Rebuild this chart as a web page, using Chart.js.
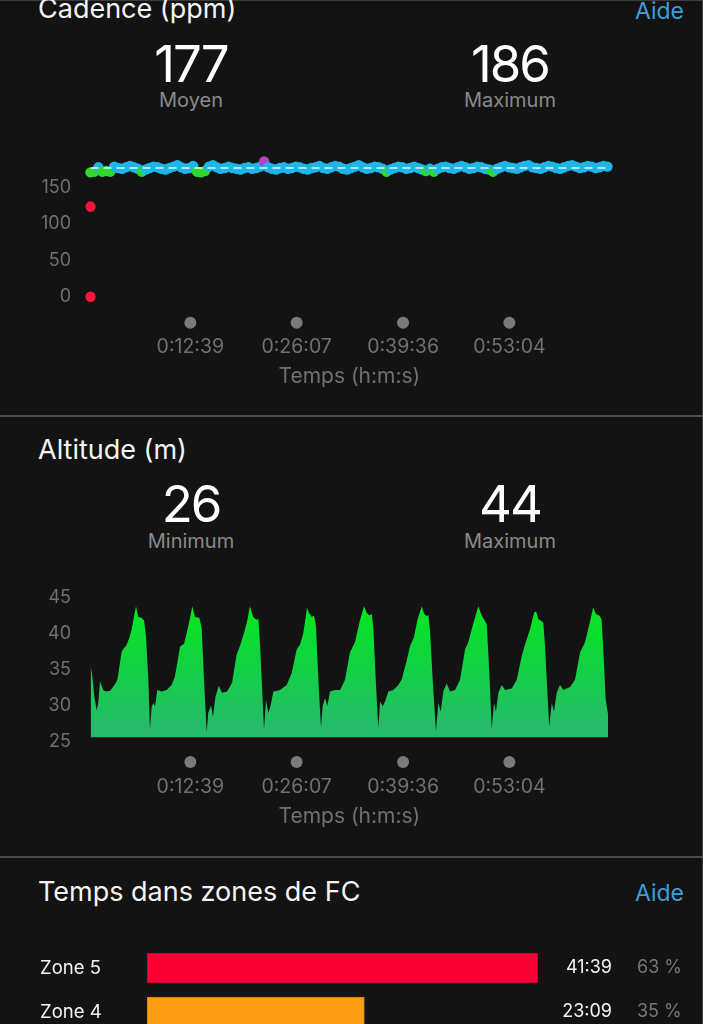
<!DOCTYPE html>
<html><head><meta charset="utf-8">
<script src="https://cdn.jsdelivr.net/npm/chart.js@4.4.1/dist/chart.umd.min.js"></script>
<style>
html,body{margin:0;padding:0;background:#131313;}
#page{position:relative;width:703px;height:1024px;overflow:hidden;background:#131313;font-family:Inter,"Noto Sans",sans-serif;}
.t{position:absolute;white-space:nowrap;line-height:1;}
.title{left:38px;font-size:27px;color:#f4f4f4;}
.help{right:19px;font-size:23px;color:#3b9fdc;}
.big{font-size:51px;color:#ffffff;transform:translateX(-50%);letter-spacing:-2px;}
.sub{font-size:20px;color:#8a8a8a;transform:translateX(-50%);}
.rule{position:absolute;left:0;width:703px;height:2px;background:#4c4c4c;}
.edgeT{position:absolute;left:0;top:0;width:703px;height:1px;background:#3a3a3a;}
.edgeR{position:absolute;right:0;top:0;width:1px;height:1024px;background:#3a3a3a;}
canvas{position:absolute;left:0;}
</style></head>
<body><div id="page">
<div class="edgeT"></div><div class="edgeR"></div>
<div class="t title" style="top:-5px">Cadence (ppm)</div>
<div class="t help" style="top:0px">Aide</div>
<div class="t big" style="left:191px;top:38px">177</div>
<div class="t big" style="left:510px;top:38px">186</div>
<div class="t sub" style="left:191px;top:90px">Moyen</div>
<div class="t sub" style="left:510px;top:90px">Maximum</div>
<canvas id="cad" width="703" height="260" style="top:140px"></canvas>
<div class="rule" style="top:415px"></div>
<div class="t title" style="top:436px">Altitude (m)</div>
<div class="t big" style="left:191px;top:478px">26</div>
<div class="t big" style="left:510px;top:478px">44</div>
<div class="t sub" style="left:191px;top:531px">Minimum</div>
<div class="t sub" style="left:510px;top:531px">Maximum</div>
<canvas id="alt" width="703" height="260" style="top:580px"></canvas>
<div class="rule" style="top:856px"></div>
<div class="t title" style="top:878px">Temps dans zones de FC</div>
<div class="t help" style="top:882px">Aide</div>
<canvas id="zones" width="703" height="104" style="top:930px"></canvas>
</div>
<script>
// ---------- DATA ----------
const timeTickSeconds = [759, 1567, 2376, 3184];
const durationSeconds = 3936;

const cadenceStepSeconds = 30;
const cadenceValues = [
171,172,178,172,173,172,179,177,176,178,180,178,176,172,175,177,179,178,176,175,
177,179,181,178,176,177,180,172,171,173,179,181,178,176,177,179,177,176,175,177,
178,176,177,179,186,178,176,175,177,178,176,177,179,178,176,175,177,178,180,177,
176,178,180,179,176,175,177,179,181,178,176,177,179,178,176,172,175,177,179,178,
176,177,179,177,175,173,176,172,176,178,179,177,176,178,180,178,176,177,179,178,
176,175,172,176,178,180,178,177,176,178,180,181,178,177,176,178,180,179,177,176,
178,180,181,179,177,178,180,179,177,178,180,179];
const cadenceStartPoints = [[0, 124], [0, 0]];
const cadenceAverage = 177;
const cadenceTicks = [0, 50, 100, 150];

const altitudeProfile = [
[0,35.7],[14,34.1],[29,31.3],[47,29.4],[59,30.4],[72,33.4],[97,32.2],[115,32.0],[150,32.1],[186,33.0],[204,33.6],[237,37.5],[255,38.0],[270,38.3],[295,39.4],[313,40.6],[330,42.3],[346,43.8],[363,42.3],[389,42.2],[407,41.8],[422,39.6],[440,33.5],[452,26.7],
[465,29.9],[478,30.4],[490,29.9],[508,32.2],[540,32.0],[579,32.2],[617,32.9],[642,34.1],[665,36.5],[680,38.2],[711,38.6],[731,40.1],[749,41.5],[774,43.8],[794,42.3],[827,42.2],[845,40.8],[863,33.6],[883,26.4],
[895,29.0],[916,30.1],[931,28.5],[950,31.3],[975,32.8],[1000,31.8],[1038,32.0],[1076,33.2],[1111,37.1],[1136,38.3],[1167,40.1],[1188,41.5],[1212,43.8],[1237,42.3],[1263,41.9],[1276,42.1],[1289,38.5],[1319,26.7],
[1334,30.8],[1352,29.0],[1370,30.1],[1390,32.0],[1441,32.2],[1491,32.9],[1529,34.5],[1567,37.8],[1593,38.5],[1618,40.1],[1646,43.6],[1660,42.9],[1682,42.3],[1699,42.5],[1714,41.0],[1732,33.6],[1752,27.0],
[1765,30.0],[1783,31.1],[1800,30.0],[1821,32.0],[1859,32.2],[1897,32.2],[1935,33.6],[1972,37.4],[2010,38.8],[2048,41.8],[2079,43.8],[2100,42.9],[2119,42.5],[2138,42.7],[2150,40.8],[2168,33.7],[2188,26.9],
[2201,30.6],[2221,29.9],[2239,30.6],[2264,32.0],[2302,32.2],[2340,32.9],[2366,33.7],[2404,36.3],[2429,38.3],[2459,39.5],[2484,41.8],[2518,43.8],[2535,42.8],[2556,42.4],[2568,42.6],[2581,40.4],[2601,33.7],[2626,26.5],
[2644,30.4],[2662,29.2],[2682,32.0],[2708,33.1],[2733,32.0],[2771,32.2],[2809,33.6],[2847,37.8],[2872,38.8],[2905,41.1],[2948,43.8],[2974,42.5],[2991,42.0],[3012,41.3],[3032,34.5],[3050,26.8],
[3067,30.4],[3082,29.2],[3100,31.8],[3126,32.9],[3151,32.2],[3202,32.4],[3240,33.6],[3278,36.9],[3303,38.5],[3341,40.6],[3372,42.9],[3387,43.1],[3404,42.0],[3423,41.8],[3442,41.5],[3455,38.3],[3472,32.2],[3487,27.1],
[3506,30.4],[3523,29.2],[3544,31.8],[3569,32.9],[3594,32.2],[3645,32.6],[3683,33.6],[3721,37.4],[3759,38.8],[3792,41.3],[3821,43.6],[3842,42.7],[3867,42.5],[3885,42.0],[3903,36.0],[3916,30.9],[3936,28.6]];
const altitudeMin = 25, altitudeMax = 45, altitudeStep = 5;

const zoneLabels = ['Zone 5', 'Zone 4'];
const zoneSeconds = [2499, 1389];
const zoneTimeLabels = ['41:39', '23:09'];
const zonePercents = [63, 35];

// ---------- HELPERS ----------
const FONT = 'Inter, "Noto Sans", sans-serif';
function hms(s){const h=Math.floor(s/3600),m=Math.floor(s%3600/60),x=Math.round(s%60);return h+':'+String(m).padStart(2,'0')+':'+String(x).padStart(2,'0');}
function cadenceColor(v){ if(v>183) return '#b63fcc'; if(v>=174) return '#1db6e6'; if(v>=164) return '#2fd92c'; if(v>=153) return '#ff9c12'; return '#f8163f'; }
function noEdgePadding(ax){ ax.paddingTop = 0; ax.paddingBottom = 0; ax.paddingLeft = 0; ax.paddingRight = 0; }

const tickDots = {
  id:'tickDots',
  afterDraw(chart, args, opts){
    const sx = chart.scales.x, ctx = chart.ctx;
    ctx.save(); ctx.fillStyle = opts.color;
    sx.ticks.forEach(t=>{ ctx.beginPath(); ctx.arc(sx.getPixelForValue(t.value), chart.chartArea.bottom + opts.offset, opts.radius, 0, Math.PI*2); ctx.fill(); });
    ctx.restore();
  }
};

function timeAxis(axisHeight, labelPad, titlePad){
  return {
    type:'linear', min:0, max:durationSeconds,
    grid:{display:false, drawTicks:false}, border:{display:false},
    afterBuildTicks(ax){ ax.ticks = timeTickSeconds.map(v=>({value:v})); },
    afterFit(ax){ ax.height = axisHeight; noEdgePadding(ax); },
    ticks:{ color:'#707070', font:{family:FONT, size:19.5}, padding:labelPad, maxRotation:0, autoSkip:false, callback:(v)=>hms(v) },
    title:{ display:true, text:'Temps (h:m:s)', color:'#707070', font:{family:FONT, size:21}, padding:{top:0,bottom:titlePad} }
  };
}

Chart.defaults.font.family = FONT;

// ---------- CADENCE ----------
const cadencePoints = cadenceStartPoints.map(p=>({x:p[0],y:p[1]})).concat(cadenceValues.map((v,i)=>({x:i*cadenceStepSeconds,y:v})));
new Chart(document.getElementById('cad'), {
  data:{ datasets:[
    { type:'line', order:0, data:[{x:0,y:cadenceAverage},{x:durationSeconds,y:cadenceAverage}], borderColor:'rgba(235,248,255,0.95)', borderWidth:1.6, borderDash:[8,5], pointRadius:0, fill:false },
    { type:'scatter', order:1, data:cadencePoints, pointRadius:5.2, borderWidth:0, clip:false,
      pointBackgroundColor:(c)=>cadenceColor(c.raw ? c.raw.y : 0) }
  ]},
  options:{
    responsive:false, animation:false, events:[],
    layout:{ padding:{left:0, right:94.7, top:18.6, bottom:0} },
    plugins:{ legend:{display:false}, tooltip:{enabled:false}, tickDots:{color:'#7a7a7a', radius:6, offset:26} },
    scales:{
      x: timeAxis(103.3, 38.6, 10.4),
      y:{ type:'linear', min:0, max:190,
        grid:{display:false, drawTicks:false}, border:{display:false},
        afterBuildTicks(ax){ ax.ticks = cadenceTicks.map(v=>({value:v})); },
        afterFit(ax){ ax.width = 90.5; noEdgePadding(ax); },
        ticks:{ color:'#707070', font:{family:FONT, size:18}, padding:19.5 } }
    }
  },
  plugins:[tickDots]
});

// ---------- ALTITUDE ----------
new Chart(document.getElementById('alt'), {
  type:'line',
  data:{ datasets:[{ data:altitudeProfile.map(p=>({x:p[0],y:p[1]})), pointRadius:0, borderWidth:0, tension:0,
    fill:{value:25.65},
    backgroundColor:(c)=>{ const ca=c.chart.chartArea; if(!ca) return '#1ccc4a';
      const g=c.chart.ctx.createLinearGradient(0,ca.top,0,ca.bottom);
      g.addColorStop(0,'#00ea18'); g.addColorStop(0.5,'#14d045'); g.addColorStop(1,'#2ab673'); return g; } }]},
  options:{
    responsive:false, animation:false, events:[],
    layout:{ padding:{left:0, right:94.7, top:17.5, bottom:0} },
    plugins:{ legend:{display:false}, tooltip:{enabled:false}, tickDots:{color:'#7a7a7a', radius:6, offset:20} },
    scales:{
      x: timeAxis(98, 33.3, 10.4),
      y:{ type:'linear', min:altitudeMin, max:altitudeMax,
        grid:{display:false, drawTicks:false}, border:{display:false},
        afterFit(ax){ ax.width = 90.5; noEdgePadding(ax); },
        ticks:{ stepSize:altitudeStep, color:'#707070', font:{family:FONT, size:18}, padding:19.5 } }
    }
  },
  plugins:[tickDots]
});

// ---------- HR ZONES ----------
const zoneText = {
  id:'zoneText',
  afterDatasetsDraw(chart){
    const meta = chart.getDatasetMeta(0), ctx = chart.ctx, ca = chart.chartArea;
    ctx.save(); ctx.font = '18px ' + FONT; ctx.textBaseline = 'middle';
    meta.data.forEach((bar,i)=>{
      ctx.fillStyle = '#f2f2f2'; ctx.textAlign = 'right'; ctx.fillText(zoneTimeLabels[i], ca.right + 74, bar.y);
      ctx.fillStyle = '#767676'; ctx.textAlign = 'left'; ctx.fillText(zonePercents[i] + ' %', ca.right + 99, bar.y);
    });
    ctx.restore();
  }
};
new Chart(document.getElementById('zones'), {
  type:'bar',
  data:{ labels:zoneLabels, datasets:[{ data:zoneSeconds, barThickness:30,
    backgroundColor:['#fc0033','#fd9d12'], borderColor:['#b8002a','#d07e08'], borderWidth:1, borderSkipped:false }]},
  options:{
    indexAxis:'y', responsive:false, animation:false, events:[],
    layout:{ padding:{left:40, right:165, top:16, bottom:0} },
    plugins:{ legend:{display:false}, tooltip:{enabled:false} },
    scales:{
      x:{ display:false, min:0, max:Math.max(...zoneSeconds), afterFit:noEdgePadding },
      y:{ grid:{display:false, drawTicks:false}, border:{display:false},
        afterFit(ax){ ax.width = 107; noEdgePadding(ax); },
        ticks:{ crossAlign:'far', color:'#f2f2f2', font:{family:FONT, size:18.5}, padding:0 } }
    }
  },
  plugins:[zoneText]
});
</script>
</body></html>
